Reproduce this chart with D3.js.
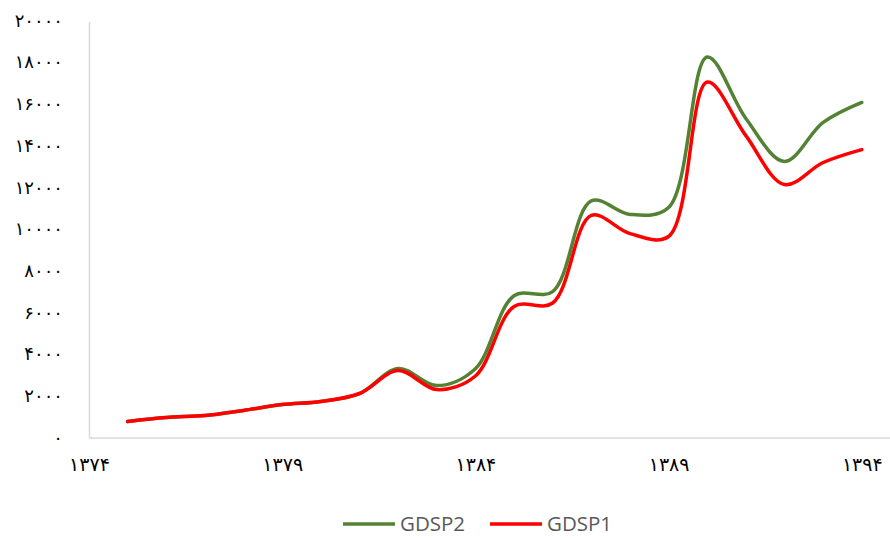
<!DOCTYPE html>
<html>
<head>
<meta charset="utf-8">
<script src="https://cdn.jsdelivr.net/npm/d3@7"></script>
<style>
  body { margin: 0; background: #fff; }
  svg { display: block; }
</style>
</head>
<body>
<div id="chart"></div>
<script>
// data
const years = [1375, 1376, 1377, 1378, 1379, 1380, 1381, 1382, 1383, 1384,
               1385, 1386, 1387, 1388, 1389, 1390, 1391, 1392, 1393, 1394];
const gdsp2 = [770, 960, 1055, 1300, 1580, 1730, 2110, 3310, 2490, 3300,
               6800, 7000, 11350, 10700, 11030, 18250, 15300, 13240, 15110, 16070];
const gdsp1 = [770, 960, 1055, 1300, 1580, 1730, 2110, 3210, 2300, 2950,
               6280, 6450, 10650, 9780, 9640, 17050, 14480, 12130, 13190, 13810];
const xTicks = [1374, 1379, 1384, 1389, 1394];
const yTicks = [0, 2000, 4000, 6000, 8000, 10000, 12000, 14000, 16000, 18000, 20000];

const series = [
  { name: "GDSP2", values: gdsp2, color: "#548235" },
  { name: "GDSP1", values: gdsp1, color: "#ff0000" }
];

const width = 890;
const height = 538;
const margin = { top: 20, left: 89, bottom: 100, right: 0 };

const fa = (n) => String(n).replace(/\d/g, (d) => "۰۱۲۳۴۵۶۷۸۹"[d]);

const svg = d3.select("#chart").append("svg")
  .attr("width", width)
  .attr("height", height);

const x = d3.scaleLinear().domain([1374, 1394.73]).range([margin.left, width - margin.right]);
const y = d3.scaleLinear().domain([0, 20000]).range([437.5, 20.5]);

// y axis
const yAxis = svg.append("g")
  .attr("transform", `translate(${margin.left},0)`)
  .call(d3.axisLeft(y).tickValues(yTicks).tickSize(0).tickPadding(26).tickFormat(fa));
yAxis.select(".domain").attr("stroke", "#d9d9d9").attr("stroke-width", 1.5)
  .attr("d", `M0.5,22V438`);
yAxis.selectAll("text")
  .style("font-family", "DejaVu Sans")
  .style("font-size", "18px")
  .attr("fill", "#000");

// x axis
const xAxis = svg.append("g")
  .attr("transform", `translate(0,438)`)
  .call(d3.axisBottom(x).tickValues(xTicks).tickSize(0).tickPadding(20).tickFormat(fa));
xAxis.select(".domain").attr("stroke", "#d9d9d9").attr("stroke-width", 1.5)
  .attr("d", `M${margin.left},0H${width}`);
xAxis.selectAll("text")
  .style("font-family", "DejaVu Sans")
  .style("font-size", "19px")
  .attr("fill", "#000");

const line = d3.line()
  .x((d, i) => x(years[i]))
  .y((d) => y(d))
  .curve(d3.curveCatmullRom.alpha(0.5));

svg.selectAll(".series")
  .data(series)
  .enter()
  .append("path")
  .attr("class", "series")
  .attr("fill", "none")
  .attr("stroke", (d) => d.color)
  .attr("stroke-width", 3.5)
  .attr("stroke-linecap", "round")
  .attr("stroke-linejoin", "round")
  .attr("d", (d) => line(d.values));

// legend
const legend = svg.append("g").attr("transform", "translate(343,524)");
const items = legend.selectAll("g").data(series).enter().append("g")
  .attr("transform", (d, i) => `translate(${i * 147},0)`);
items.append("line")
  .attr("x1", 0).attr("x2", 52)
  .attr("stroke", (d) => d.color)
  .attr("stroke-width", 3.5);
items.append("text")
  .attr("x", 57)
  .attr("dy", "0.35em")
  .style("font-family", "Open Sans, Liberation Sans, sans-serif")
  .style("font-size", "20.5px")
  .attr("fill", "#595959")
  .text((d) => d.name);
</script>
</body>
</html>
